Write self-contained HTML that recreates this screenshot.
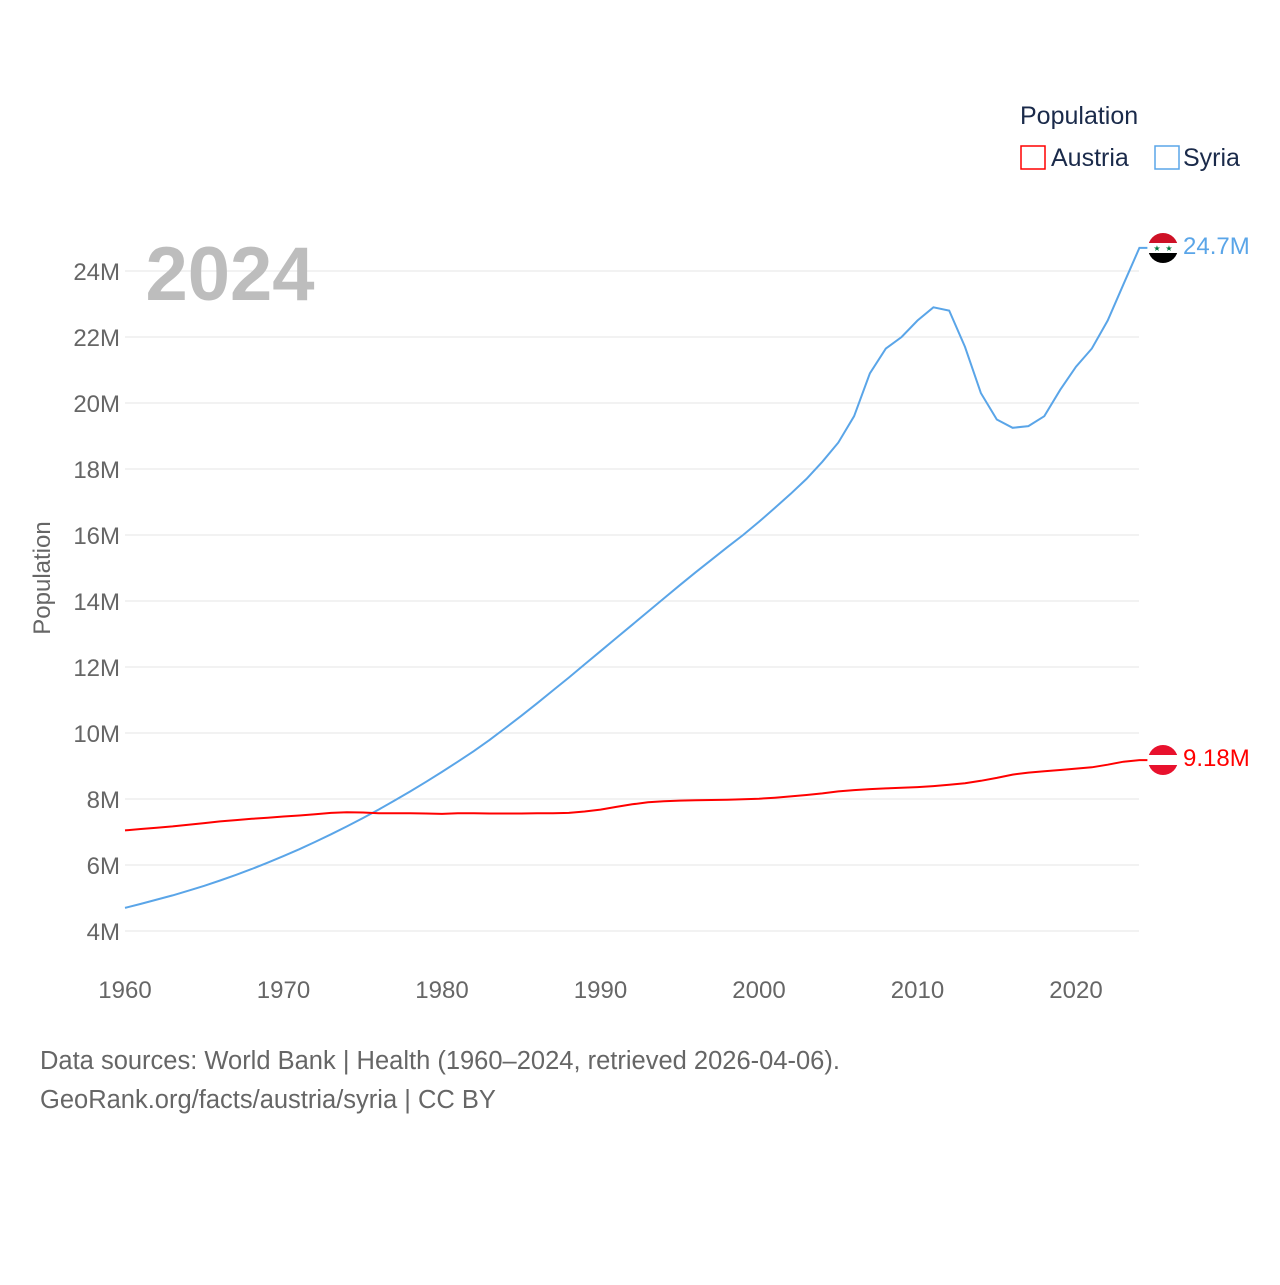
<!DOCTYPE html>
<html><head><meta charset="utf-8"><style>
body{margin:0;background:#fff;font-family:"Liberation Sans",sans-serif;}
svg text{font-family:"Liberation Sans",sans-serif;}
</style></head><body>
<svg id="chart" width="1280" height="1280" viewBox="0 0 1280 1280">
<g id="grid"></g>
<g id="yticks"></g>
<g id="xticks"></g>
<text x="230" y="300" font-size="76" font-weight="bold" fill="#bdbdbd" text-anchor="middle">2024</text>
<text transform="translate(50,578) rotate(-90)" font-size="24" fill="#666" text-anchor="middle">Population</text>
<g id="lines"></g>
<g>
<text x="1020" y="124" font-size="25" fill="#1a2a4a">Population</text>
<g><rect x="1021" y="146" width="24" height="23" fill="none" stroke="#f00" stroke-width="1.5"/><text x="1051" y="166" font-size="25" fill="#1a2a4a">Austria</text></g>
<g><rect x="1155" y="146" width="24" height="23" fill="none" stroke="#5aa5e8" stroke-width="1.5"/><text x="1183" y="166" font-size="25" fill="#1a2a4a">Syria</text></g>
</g>
<g>
<clipPath id="cs"><circle cx="1163" cy="248" r="15"/></clipPath>
<g clip-path="url(#cs)"><rect x="1148" y="233" width="30" height="10" fill="#ce1126"/><rect x="1148" y="243" width="30" height="10" fill="#fff"/><rect x="1148" y="253" width="30" height="10" fill="#000"/></g>
<text x="1157" y="251" font-size="8" fill="#007a3d" text-anchor="middle">★</text><text x="1169" y="251" font-size="8" fill="#007a3d" text-anchor="middle">★</text>
</g>
<g>
<clipPath id="ca"><circle cx="1163" cy="760" r="15"/></clipPath>
<g clip-path="url(#ca)"><rect x="1148" y="745" width="30" height="10" fill="#e8112d"/><rect x="1148" y="755" width="30" height="10" fill="#fff"/><rect x="1148" y="765" width="30" height="10" fill="#e8112d"/></g>
</g>
<text x="1183" y="254" font-size="24" fill="#5aa5e8">24.7M</text>
<text x="1183" y="766" font-size="24" fill="#f00">9.18M</text>
<text x="40" y="1069" font-size="25.5" fill="#666">Data sources: World Bank | Health (1960–2024, retrieved 2026-04-06).</text>
<text x="40" y="1108" font-size="25.5" fill="#666">GeoRank.org/facts/austria/syria | CC BY</text>
</svg>
<script>
const years=[];for(let y=1960;y<=2024;y++)years.push(y);
const syria=[4.70,4.82,4.95,5.08,5.22,5.37,5.53,5.70,5.88,6.07,6.27,6.48,6.70,6.93,7.17,7.42,7.68,7.95,8.23,8.52,8.82,9.13,9.45,9.79,10.15,10.52,10.90,11.29,11.68,12.08,12.48,12.88,13.28,13.68,14.08,14.48,14.87,15.25,15.63,16.00,16.40,16.82,17.25,17.70,18.22,18.80,19.60,20.90,21.65,22.00,22.50,22.90,22.80,21.70,20.30,19.50,19.25,19.30,19.60,20.40,21.10,21.65,22.50,23.60,24.70];
const austria=[7.05,7.09,7.13,7.17,7.22,7.27,7.32,7.36,7.40,7.43,7.47,7.50,7.54,7.58,7.60,7.59,7.57,7.57,7.57,7.56,7.55,7.57,7.57,7.56,7.56,7.56,7.57,7.57,7.58,7.62,7.68,7.76,7.84,7.90,7.93,7.95,7.96,7.97,7.98,7.99,8.01,8.04,8.08,8.12,8.17,8.23,8.27,8.30,8.32,8.34,8.36,8.39,8.43,8.48,8.55,8.64,8.74,8.80,8.84,8.88,8.92,8.96,9.04,9.13,9.18];
const yTicks=[4,6,8,10,12,14,16,18,20,22,24];
const xTicks=[1960,1970,1980,1990,2000,2010,2020];
const X=y=>125+(y-1960)*(951/60);
const Y=v=>931-(v-4)*33;
const NS="http://www.w3.org/2000/svg";
function mk(t,a,p){const e=document.createElementNS(NS,t);for(const k in a)e.setAttribute(k,a[k]);p.appendChild(e);return e;}
const grid=document.getElementById('grid'),yt=document.getElementById('yticks'),xt=document.getElementById('xticks'),lines=document.getElementById('lines');
yTicks.forEach(v=>{
 const l=mk('line',{x1:125,x2:1139,y1:Y(v),y2:Y(v),stroke:'#e6e6e6','stroke-width':1},grid);
 
 
 const t=mk('text',{x:120,y:Y(v)+9,'font-size':24,fill:'#666','text-anchor':'end'},yt);
 t.textContent=v+'M';
 
 
});
xTicks.forEach(v=>{
 const t=mk('text',{x:X(v),y:998,'font-size':24,fill:'#666','text-anchor':'middle'},xt);
 t.textContent=v;
 
 
});
function line(vals,color,name){
 let d=vals.map((v,i)=>(i?'L':'M')+X(years[i]).toFixed(1)+','+Y(v).toFixed(1)).join('');
 d+='L'+(X(years[years.length-1])+8).toFixed(1)+','+Y(vals[vals.length-1]).toFixed(1);
 const p=mk('path',{d:d,fill:'none',stroke:color,'stroke-width':2},lines);
 
 
}
line(syria,'#5aa5e8','syria-line');
line(austria,'#f00','austria-line');
</script>
</body></html>
